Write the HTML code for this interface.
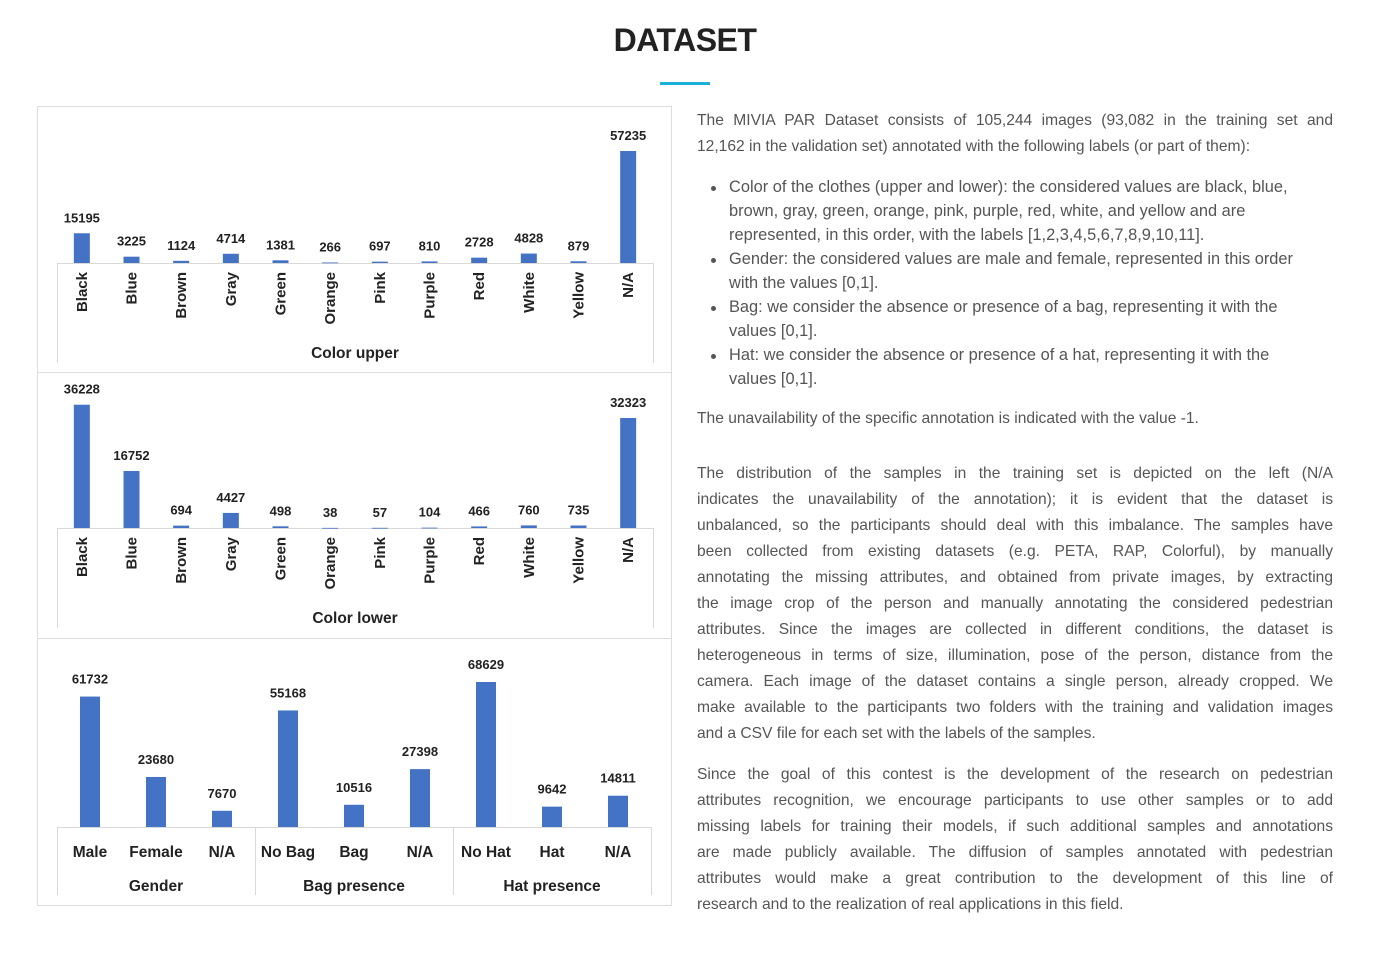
<!DOCTYPE html>
<html><head><meta charset="utf-8"><style>
body{margin:0;background:#fff;width:1383px;height:961px;overflow:hidden;position:relative;font-family:"Liberation Sans",sans-serif;}
#title{position:absolute;left:0;width:1370px;top:22px;text-align:center;font-weight:bold;font-size:32px;color:#222;letter-spacing:-0.5px}
#uline{position:absolute;left:660px;top:82px;width:50px;height:3px;background:#1ab0d8}
#panel{position:absolute;left:0;top:0}
#txt{position:absolute;left:697px;top:108px;width:636px;color:#555;font-size:15.6px;}
.l{height:26px;line-height:26px;text-align:justify;text-align-last:justify;white-space:nowrap;overflow:visible}
.l.e{text-align-last:left}
.b{height:24px;line-height:24px;padding-left:32px;position:relative;white-space:nowrap;font-size:16.4px}
.b.d:before{content:"";position:absolute;left:14px;top:11px;width:5px;height:5px;border-radius:50%;background:#555}
</style></head><body>
<div id="title">DATASET</div>
<div id="uline"></div>
<svg id="panel" width="680" height="961" xmlns="http://www.w3.org/2000/svg"></svg>
<div id="txt">
<div class="l">The MIVIA PAR Dataset consists of 105,244 images (93,082 in the training set and</div>
<div class="l e">12,162 in the validation set) annotated with the following labels (or part of them):</div>
<div style="height:15px"></div>
<div class="b d">Color of the clothes (upper and lower): the considered values are black, blue,</div>
<div class="b">brown, gray, green, orange, pink, purple, red, white, and yellow and are</div>
<div class="b">represented, in this order, with the labels [1,2,3,4,5,6,7,8,9,10,11].</div>
<div class="b d">Gender: the considered values are male and female, represented in this order</div>
<div class="b">with the values [0,1].</div>
<div class="b d">Bag: we consider the absence or presence of a bag, representing it with the</div>
<div class="b">values [0,1].</div>
<div class="b d">Hat: we consider the absence or presence of a hat, representing it with the</div>
<div class="b">values [0,1].</div>
<div style="height:15px"></div>
<div class="l e">The unavailability of the specific annotation is indicated with the value -1.</div>
<div style="height:29px"></div>
<div class="l">The distribution of the samples in the training set is depicted on the left (N/A</div>
<div class="l">indicates the unavailability of the annotation); it is evident that the dataset is</div>
<div class="l">unbalanced, so the participants should deal with this imbalance. The samples have</div>
<div class="l">been collected from existing datasets (e.g. PETA, RAP, Colorful), by manually</div>
<div class="l">annotating the missing attributes, and obtained from private images, by extracting</div>
<div class="l">the image crop of the person and manually annotating the considered pedestrian</div>
<div class="l">attributes. Since the images are collected in different conditions, the dataset is</div>
<div class="l">heterogeneous in terms of size, illumination, pose of the person, distance from the</div>
<div class="l">camera. Each image of the dataset contains a single person, already cropped. We</div>
<div class="l">make available to the participants two folders with the training and validation images</div>
<div class="l e">and a CSV file for each set with the labels of the samples.</div>
<div style="height:15px"></div>
<div class="l">Since the goal of this contest is the development of the research on pedestrian</div>
<div class="l">attributes recognition, we encourage participants to use other samples or to add</div>
<div class="l">missing labels for training their models, if such additional samples and annotations</div>
<div class="l">are made publicly available. The diffusion of samples annotated with pedestrian</div>
<div class="l">attributes would make a great contribution to the development of this line of</div>
<div class="l e">research and to the realization of real applications in this field.</div>
</div>
<script>
const colorCats = ["Black","Blue","Brown","Gray","Green","Orange","Pink","Purple","Red","White","Yellow","N/A"];
const upperValues = [15195,3225,1124,4714,1381,266,697,810,2728,4828,879,57235];
const lowerValues = [36228,16752,694,4427,498,38,57,104,466,760,735,32323];
const attrCats = ["Male","Female","N/A","No Bag","Bag","N/A","No Hat","Hat","N/A"];
const attrValues = [61732,23680,7670,55168,10516,27398,68629,9642,14811];
const attrGroups = ["Gender","Bag presence","Hat presence"];

const NS="http://www.w3.org/2000/svg";
const svg=document.getElementById('panel');
function mk(tag,attrs,parent){const e=document.createElementNS(NS,tag);for(const k in attrs)e.setAttribute(k,attrs[k]);(parent||svg).appendChild(e);return e;}
const BLUE="#4472c4",TXT="#222",GRID="#d9d9d9",FONT='"Liberation Sans",sans-serif';

const fr=mk('rect',{x:37.5,y:106.5,width:634,height:799,fill:'none',stroke:'#ddd'});


[372.5,638.5].forEach(y=>{const s=mk('line',{x1:37,x2:672,y1:y,y2:y,stroke:'#ddd'});

});

function colorChart(name,cats,vals,base,maxH,maxV,title,titleY){
  const g=mk('g',{});
  
  
  const x0=57,x1=653,step=(x1-x0)/cats.length;
  const y=v=>base-v/maxV*maxH;
  mk('line',{x1:x0,x2:x1,y1:base+0.5,y2:base+0.5,stroke:GRID},g);
  mk('line',{x1:x0+0.5,x2:x0+0.5,y1:base,y2:base+100,stroke:GRID},g);
  mk('line',{x1:x1+0.5,x2:x1+0.5,y1:base,y2:base+100,stroke:GRID},g);
  cats.forEach((c,i)=>{
    const cx=x0+step*(i+0.5);
    const r=mk('rect',{x:cx-8,y:y(vals[i]),width:16,height:Math.max(base-y(vals[i]),0.8),fill:BLUE},g);
    
    
    const t=mk('text',{x:cx,y:y(vals[i])-11,'text-anchor':'middle','font-family':FONT,'font-size':13,'font-weight':'bold',fill:TXT},g);
    t.textContent=vals[i];
    
    
    const l=mk('text',{x:0,y:0,'text-anchor':'end','font-family':FONT,'font-size':15,'font-weight':'bold',fill:TXT,transform:`translate(${cx+5},${base+9}) rotate(-90)`},g);
    l.textContent=c;
    
    
  });
  const tt=mk('text',{x:355,y:titleY,'text-anchor':'middle','font-family':FONT,'font-size':15.5,'font-weight':'bold',fill:TXT},g);
  tt.textContent=title;
  
  
}
colorChart('color-upper-chart',colorCats,upperValues,263,112,57235,'Color upper',358);
colorChart('color-lower-chart',colorCats,lowerValues,528,110,32323,'Color lower',623);

(function(){
  const g=mk('g',{});
  
  
  const base=827,maxH=145,maxV=68629,x0=57,x1=651,step=(x1-x0)/attrCats.length;
  const y=v=>base-v/maxV*maxH;
  mk('line',{x1:x0,x2:x1,y1:base+0.5,y2:base+0.5,stroke:GRID},g);
  for(let k=0;k<=3;k++){const gx=x0+k*3*step;mk('line',{x1:gx+0.5,x2:gx+0.5,y1:base,y2:base+68,stroke:GRID},g);}
  attrCats.forEach((c,i)=>{
    const cx=x0+step*(i+0.5);
    const r=mk('rect',{x:cx-10,y:y(attrValues[i]),width:20,height:base-y(attrValues[i]),fill:BLUE},g);
    
    
    const t=mk('text',{x:cx,y:y(attrValues[i])-13,'text-anchor':'middle','font-family':FONT,'font-size':13,'font-weight':'bold',fill:TXT},g);
    t.textContent=attrValues[i];
    
    
    const l=mk('text',{x:cx,y:857,'text-anchor':'middle','font-family':FONT,'font-size':15.5,'font-weight':'bold',fill:TXT},g);
    l.textContent=c;
    
    
  });
  attrGroups.forEach((gname,k)=>{
    const t=mk('text',{x:x0+step*(3*k+1.5),y:891,'text-anchor':'middle','font-family':FONT,'font-size':15.5,'font-weight':'bold',fill:TXT},g);
    t.textContent=gname;
    
    
  });
})();
</script>
</body></html>
